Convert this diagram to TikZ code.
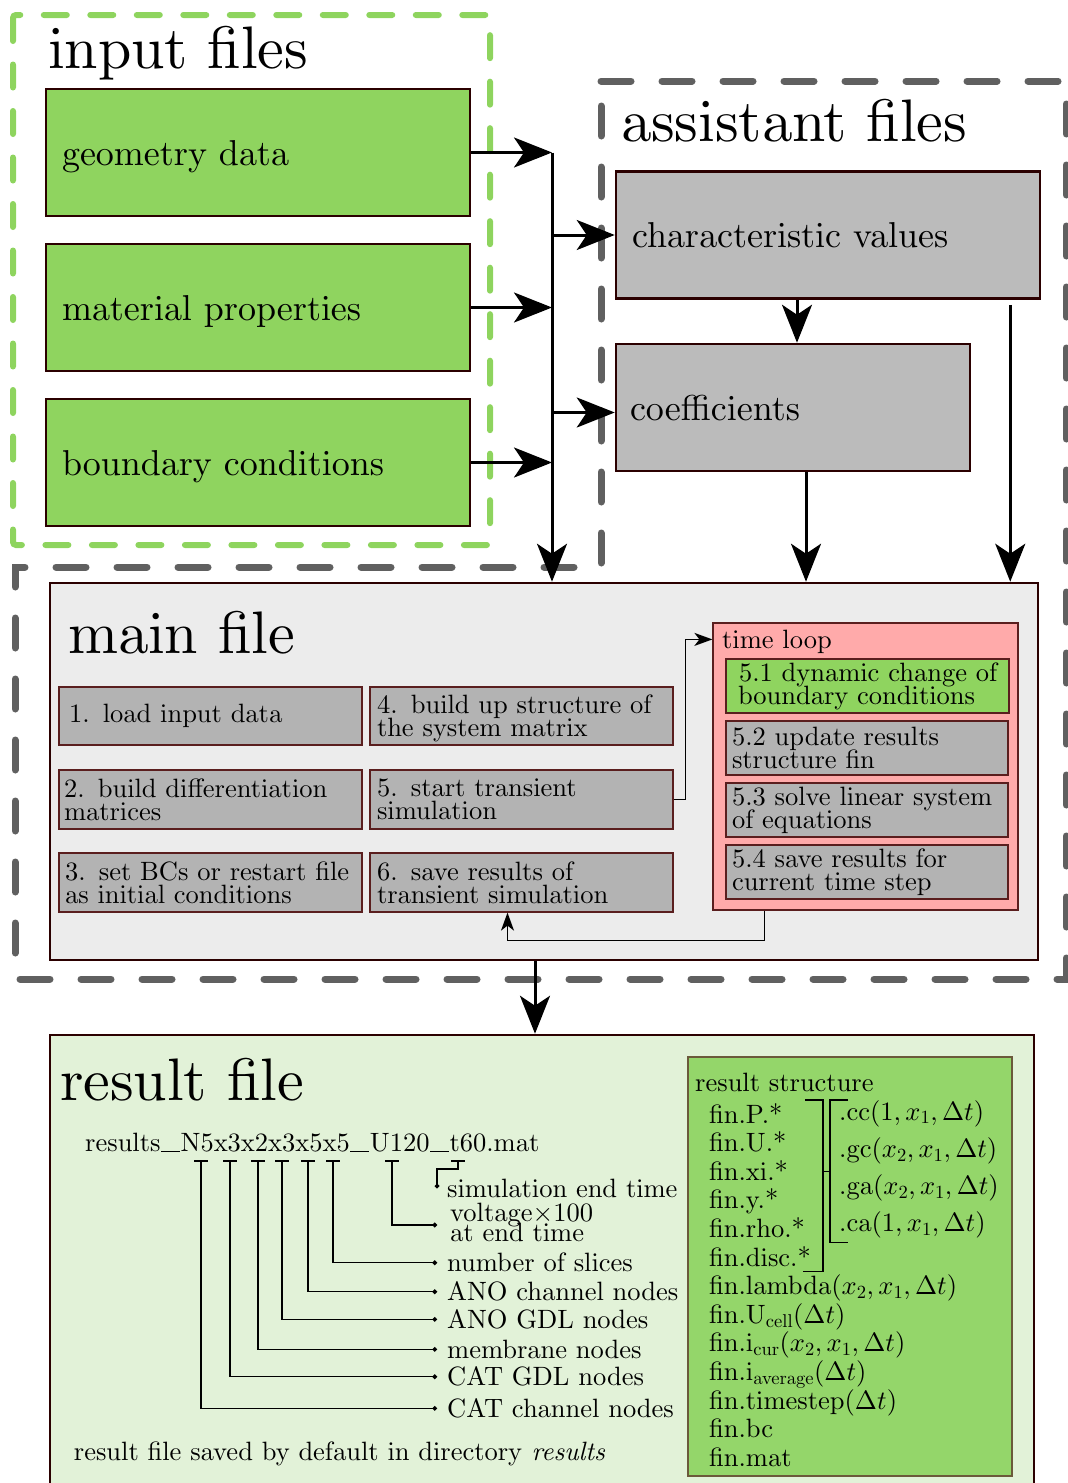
\documentclass[tikz,border=0pt]{standalone}
\usetikzlibrary{arrows.meta,calc}
\DeclareFontShape{OML}{cmm}{m}{it}{<->cmmi10}{}
\DeclareFontShape{OMS}{cmsy}{m}{n}{<->cmsy10}{}
\DeclareFontShape{OT1}{cmr}{m}{n}{<->cmr10}{}
\DeclareFontShape{OT1}{cmr}{m}{it}{<->cmti10}{}
\renewcommand\encodingdefault{OT1}
\renewcommand\rmdefault{cmr}
\AtBeginDocument{\fontencoding{OT1}\fontfamily{cmr}\selectfont}
\definecolor{cgreen}{RGB}{143,212,95}
\definecolor{crsgreen}{RGB}{148,214,106}
\definecolor{cdashgreen}{RGB}{142,212,94}
\definecolor{cdashgray}{RGB}{96,96,96}
\definecolor{cgraybox}{RGB}{187,187,187}
\definecolor{cstep}{RGB}{179,179,179}
\definecolor{cmainbg}{RGB}{236,236,236}
\definecolor{cpink}{RGB}{255,170,170}
\definecolor{cresbg}{RGB}{226,242,216}
\definecolor{cborder}{RGB}{43,0,0}
\definecolor{cstepb}{RGB}{90,30,30}
\definecolor{crsb}{RGB}{107,90,58}
\newcommand\fTitle{\fontsize{60}{66}\selectfont}
\newcommand\fBox{\fontsize{36}{40}\selectfont}
\newcommand\fSmall{\fontsize{26.5}{23}\selectfont\lineskiplimit=-20pt}
\newcommand\uscore{\kern0.5pt\rule[-0.8pt]{19pt}{1.1pt}\kern0.5pt}
\begin{document}
\begin{tikzpicture}[x=1pt,y=-1pt,
  bigarrow/.style={line width=3pt,-{Stealth[length=38pt,width=30pt,inset=10pt]}},
  smallarrow/.style={line width=1.7pt,-{Stealth[length=18pt,width=13pt,inset=5pt]}},
  thinline/.style={line width=1.5pt},
  dotline/.style={line width=1.5pt,-{Circle[length=4.5pt]}},
  greenbox/.style={draw=cborder,line width=2.5pt,fill=cgreen,minimum height=127pt,text width=392pt,inner xsep=16pt,text depth=0pt,align=left,font=\fBox},
  graybox/.style={draw=cborder,line width=2.5pt,fill=cgraybox,minimum height=127pt,text depth=0pt,align=left,font=\fBox},
  stepbox/.style={draw=cstepb,line width=1.2pt,fill=cstep,minimum height=58pt,text width=289pt,inner xsep=7pt,inner ysep=0pt,align=left,font=\fSmall},
  loopbox/.style={draw=cstepb,line width=1.2pt,fill=cstep,minimum height=54pt,text width=270pt,inner xsep=6pt,inner ysep=0pt,align=left,font=\fSmall},
  title/.style={anchor=base west,inner sep=0pt,font=\fTitle},
  txt/.style={anchor=base west,inner sep=0pt,font=\fSmall},
  lab/.style={anchor=west,inner xsep=10pt,inner ysep=0pt,font=\fSmall,align=left},
  greendash/.style={draw=cdashgreen,line width=6pt,dash pattern=on 23pt off 23.5pt,line cap=round,rounded corners=3pt},
  graydash/.style={draw=cdashgray,line width=7pt,dash pattern=on 30pt off 31pt,line cap=round}
]
\useasboundingbox (0,0) rectangle (1068,1483);

% frames
\draw[greendash] (13,15) rectangle (490,545);
\draw[graydash] (601,81) -- (1066,81) -- (1066,979) -- (15,979) -- (15,567) -- (601,567) -- cycle;

% input files
\node[title] (tin) at (48,68) {input files};
\node[greenbox] (geo) at (258,152.5) {geometry data};
\node[greenbox] (mat) at (258,307.5) {material properties};
\node[greenbox] (bnd) at (258,462.5) {boundary conditions};

% assistant files
\node[title] (tas) at (621,141) {assistant files};
\node[graybox,text width=392pt,inner xsep=16pt] (cv) at (828,235) {characteristic values};
\node[graybox,text width=326pt,inner xsep=14pt] (co) at (793,407.5) {coefficients};

% main file
\node[draw=cborder,line width=2.5pt,fill=cmainbg,minimum width=988pt,minimum height=377pt] (main) at (544,771.5) {};
\node[title] (tmain) at (68,653) {main file};
\node[stepbox,text width=283pt,inner xsep=10pt] (s1) at (210.5,716) {1. load input data};
\node[stepbox,text depth=23pt] (s4) at (521.5,716) {4. build up structure of\\the system matrix};
\node[stepbox,minimum height=59pt,text width=293pt,inner xsep=5pt] (s2) at (210.5,799.5) {2. build differentiation\\matrices};
\node[stepbox,minimum height=59pt] (s5) at (521.5,799.5) {5. start transient\\simulation};
\node[stepbox,minimum height=59pt,text width=291pt,inner xsep=6pt] (s3) at (210.5,882.5) {3. set BCs or restart file\\as initial conditions};
\node[stepbox,minimum height=59pt] (s6) at (521.5,882.5) {6. save results of\\transient simulation};

\node[draw=cstepb,line width=1.2pt,fill=cpink,minimum width=305pt,minimum height=287pt] (tl) at (865.5,766.5) {};
\node[txt] (tll) at (722,648) {time loop};
\node[loopbox,fill=cgreen,text width=271pt] (l1) at (867.5,686) {\hspace*{7pt}5.1 dynamic change of\\\hspace*{6pt}boundary conditions};
\node[loopbox] (l2) at (867,748) {5.2 update results\\structure fin};
\node[loopbox] (l3) at (867,810) {5.3 solve linear system\\of equations};
\node[loopbox] (l4) at (867,872) {5.4 save results for\\current time step};

% connectors top
\coordinate (bus) at (552,152.5);
\draw[bigarrow] (geo.east) -- (geo.east -| bus);
\draw[bigarrow] (mat.east) -- (mat.east -| bus);
\draw[bigarrow] (bnd.east) -- (bnd.east -| bus);
\draw[bigarrow] (bus) -- (bus |- main.north);
\draw[bigarrow] (cv.west -| bus) -- (cv.west);
\draw[bigarrow] ($(co.west -| bus)+(0,5)$) -- ($(co.west)+(0,5)$);
\draw[bigarrow] ($(cv.south -| co.north)+(4,0)$) -- ($(co.north)+(4,0)$);
\coordinate (cod) at ($(co.south)+(13,0)$);
\draw[bigarrow] (cod) -- (cod |- main.north);
\coordinate (cvr) at ($(cv.south east)+(-31,5)$);
\draw[bigarrow] (cvr) -- (cvr |- main.north);

% small connectors in main
\draw[smallarrow] (s5.east) -- ++(12,0) |- ($(tl.north west)+(0,17)$);
\draw[smallarrow] ($(tl.south west)+(52,0)$) -- ++(0,30) -| ($(s6.south)+(-14,0)$);

% result file
\node[draw=cborder,line width=2.5pt,fill=cresbg,minimum width=984pt,minimum height=465pt] (res) at (542,1267.5) {};
\coordinate (mr) at ($(main.south)+(-9,0)$);
\draw[bigarrow] (mr) -- (mr |- res.north);
\node[title] (tres) at (60,1100) {result file};
\node[txt] (fname) at (85,1151) {results\uscore N5x3x2x3x5x5\uscore U120\uscore t60.mat};

\node[lab] (sim) at (437,1188.3) {simulation end time};
\node[txt] (volt) at (450,1221.7) {voltage$\times$100};
\node[txt] (volt2) at (450,1241.7) {at end time};
\node[lab] (slices) at (437,1262.7) {number of slices};
\node[lab] (anoch) at (437,1291.7) {ANO channel nodes};
\node[lab] (anogdl) at (437,1319.3) {ANO GDL nodes};
\node[lab] (mem) at (437,1349.3) {membrane nodes};
\node[lab] (catgdl) at (437,1376.7) {CAT GDL nodes};
\node[lab] (catch) at (437,1408.3) {CAT channel nodes};

\foreach \xv/\lb in {201/catch,230/catgdl,258/mem,282/anogdl,308/anoch,333/slices}{
  \draw[thinline] ({\xv-7},1161) -- ({\xv+7},1161);
  \draw[dotline] (\xv,1161) |- (\lb.west);
}
\draw[thinline] (385,1161) -- (399,1161);
\draw[dotline] (392,1161) |- ($(volt.base west)+(-13,3.3)$);
\draw[thinline] (451,1161) -- (465,1161);
\draw[dotline] (458,1161) -- (458,1169) -| (sim.west);

\node[txt] (foot) at (73.7,1460.7) {result file saved by default in directory \textit{results}};

% result structure
\node[draw=crsb,line width=1.5pt,fill=crsgreen,minimum width=324pt,minimum height=419pt] (rs) at (850,1266.5) {};
\node[txt] (rstitle) at (695,1091.7) {result structure};
\foreach \t [count=\i] in {fin.P.*,fin.U.*,fin.xi.*,fin.y.*,fin.rho.*,fin.disc.*,{fin.lambda$(x_2,x_1,\Delta t)$},{fin.U$_\mathrm{cell}(\Delta t)$},{fin.i$_\mathrm{cur}(x_2,x_1,\Delta t)$},{fin.i$_\mathrm{average}(\Delta t)$},{fin.timestep$(\Delta t)$},fin.bc,fin.mat}{
  \node[txt] (rf\i) at (709,{1123+28.6*(\i-1)}) {\t};
}
\foreach \t [count=\i] in {{.cc$(1,x_1,\Delta t)$},{.gc$(x_2,x_1,\Delta t)$},{.ga$(x_2,x_1,\Delta t)$},{.ca$(1,x_1,\Delta t)$}}{
  \node[txt] (rc\i) at (839,{1120+37.3*(\i-1)}) {\t};
}
\draw[thinline] (805,1100) -- (823,1100) -- (823,1271.7) -- (803,1271.7);
\draw[thinline] (848,1100) -- (830,1100) -- (830,1242.7) -- (848,1242.7);
\draw[thinline] (823,1171.7) -- (830,1171.7);
\end{tikzpicture}
\end{document}
